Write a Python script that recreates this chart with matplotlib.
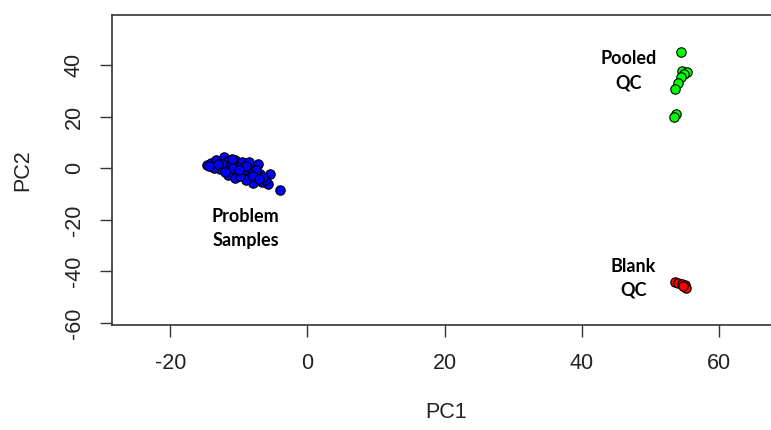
import matplotlib
matplotlib.use("Agg")
import matplotlib.pyplot as plt

# PCA scores, grouped by sample type
problem_pc1 = [-14.7, -14.0, -13.3, -12.1, -11.6, -10.6, -9.6, -8.5, -7.2, -12.3,
               -11.1, -10.1, -12.8, -11.7, -9.1, -8.1, -10.3, -9.4, -6.9, -5.5,
               -11.6, -10.6, -8.4, -7.4, -6.7, -7.9, -5.7, -6.2, -4.0, -8.9,
               -9.9, -12.5, -10.8, -7.5, -13.6, -14.3, -11.0, -9.0, -8.0, -10.0,
               -12.0, -13.0, -6.5, -7.0]
problem_pc2 = [1.2, 2.1, 3.1, 4.4, 2.8, 3.1, 2.5, 2.3, 1.6, 1.2,
               0.9, 0.5, -0.1, -0.8, -0.1, -1.0, -1.4, -2.1, -2.1, -2.3,
               -2.7, -3.6, -3.4, -4.7, -5.3, -5.7, -6.0, -4.7, -8.6, -4.4,
               -3.1, 1.8, 0.0, -0.5, 0.3, 1.0, 3.5, 0.8, -2.8, -0.5,
               -1.5, 1.5, -3.5, -4.0]

pooled_pc1 = [54.5, 54.6, 55.3, 54.9, 54.4, 54.0, 53.6, 53.8, 53.4]
pooled_pc2 = [45.0, 37.8, 37.4, 36.5, 35.5, 33.3, 30.8, 21.0, 20.0]

blank_pc1 = [53.6, 54.1, 54.6, 55.0, 55.2, 54.8]
blank_pc2 = [-44.0, -44.5, -44.8, -45.2, -46.5, -45.8]

x_ticks = [-20, 0, 20, 40, 60]
y_ticks = [-60, -40, -20, 0, 20, 40]

fig = plt.figure(figsize=(7.71, 4.30), dpi=100)
ax = fig.add_axes([112 / 771, 1 - 325 / 430, (780 - 112) / 771, (325 - 15) / 430])

pt = dict(s=46, edgecolors="black", linewidths=0.8, zorder=3)
ax.scatter(problem_pc1, problem_pc2, c="#0000ff", **pt)
ax.scatter(pooled_pc1, pooled_pc2, c="#00ff00", **pt)
ax.scatter(blank_pc1, blank_pc2, c="#ff0000", **pt)

ax.set_xlim(-28.5, 68.9)
ax.set_ylim(-60.8, 59.5)
ax.set_xticks(x_ticks)
ax.set_yticks(y_ticks)

for s in ax.spines.values():
    s.set_color("#333333")
    s.set_linewidth(1.2)

tick_font = dict(family="Liberation Sans", size=15.5, color="#222222")
ax.set_xticklabels([str(v) for v in x_ticks], **tick_font)
ax.set_yticklabels([str(v) for v in y_ticks], rotation=90, va="center", **tick_font)
ax.tick_params(axis="both", length=8.5, width=1.0, color="#333333")
ax.tick_params(axis="x", pad=12)
ax.tick_params(axis="y", pad=11)

ax.set_xlabel("PC1", family="Liberation Sans", size=15.5, color="#222222", labelpad=20)
ax.set_ylabel("PC2", family="Liberation Sans", size=15.5, color="#222222", labelpad=22)

note = dict(family="Lato", weight="bold", size=13, ha="center", va="center",
            linespacing=1.5, color="black")
ax.text(-9.0, -23.5, "Problem\nSamples", **note)
ax.text(46.8, 37.9, "Pooled\nQC", **note)
ax.text(47.5, -42.6, "Blank\nQC", **note)

fig.savefig("out.png", dpi=100)
